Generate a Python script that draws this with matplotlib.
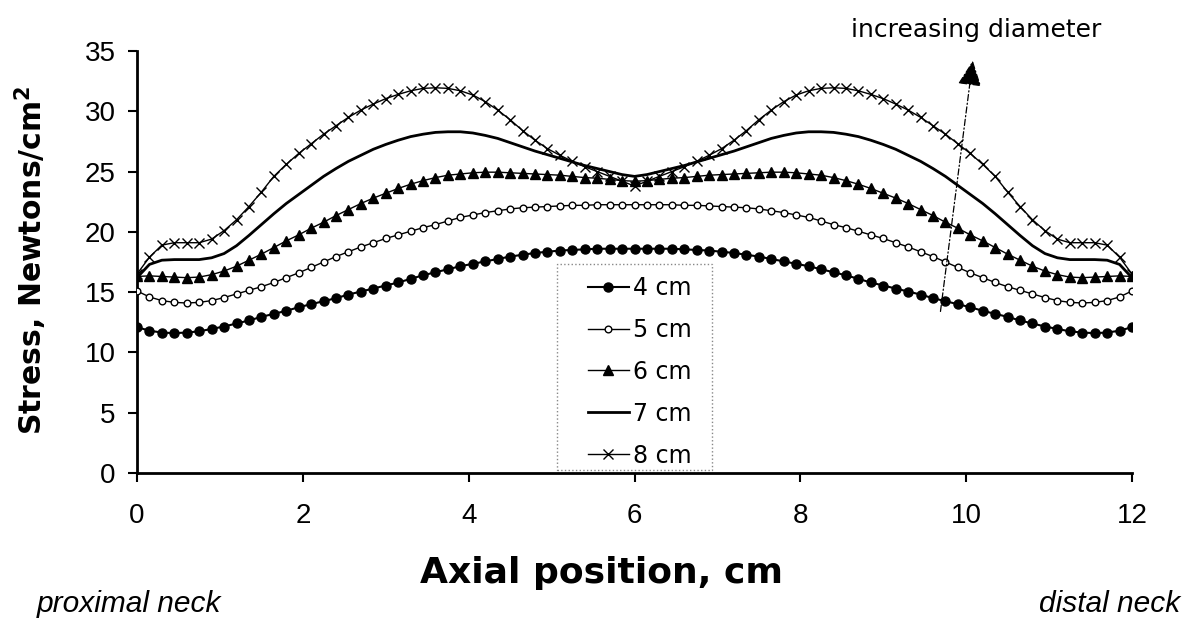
import numpy as np
import matplotlib
matplotlib.use("Agg")
import matplotlib.pyplot as plt
from matplotlib.patches import Rectangle

# Axial positions (cm), 81 stations from 0 to 12
axial_cm = np.linspace(0, 12, 81)

stress_4cm = [12.1, 11.8, 11.65, 11.6, 11.65, 11.75, 11.95, 12.15, 12.4, 12.65,
              12.95, 13.2, 13.45, 13.75, 14.0, 14.25, 14.5, 14.8, 15.05, 15.3,
              15.55, 15.8, 16.1, 16.4, 16.65, 16.9, 17.15, 17.35, 17.55, 17.75,
              17.95, 18.1, 18.25, 18.35, 18.45, 18.5, 18.55, 18.6, 18.6, 18.6,
              18.6,
              18.6, 18.6, 18.6, 18.55, 18.5, 18.45, 18.35, 18.25, 18.1, 17.95,
              17.75, 17.55, 17.35, 17.15, 16.9, 16.65, 16.4, 16.1, 15.8, 15.55,
              15.3, 15.05, 14.8, 14.5, 14.25, 14.0, 13.75, 13.45, 13.2, 12.95,
              12.65, 12.4, 12.15, 11.95, 11.75, 11.65, 11.6, 11.65, 11.8, 12.1]

stress_5cm = [15.1, 14.6, 14.3, 14.15, 14.1, 14.15, 14.3, 14.55, 14.85, 15.15,
              15.45, 15.8, 16.2, 16.6, 17.05, 17.5, 17.95, 18.35, 18.75, 19.1,
              19.45, 19.75, 20.05, 20.35, 20.6, 20.9, 21.2, 21.4, 21.6, 21.75,
              21.9, 22.0, 22.05, 22.1, 22.15, 22.2, 22.2, 22.25, 22.25, 22.25,
              22.25,
              22.25, 22.25, 22.25, 22.2, 22.2, 22.15, 22.1, 22.05, 22.0, 21.9,
              21.75, 21.6, 21.4, 21.2, 20.9, 20.6, 20.35, 20.05, 19.75, 19.45,
              19.1, 18.75, 18.35, 17.95, 17.5, 17.05, 16.6, 16.2, 15.8, 15.45,
              15.15, 14.85, 14.55, 14.3, 14.15, 14.1, 14.15, 14.3, 14.6, 15.1]

stress_6cm = [16.3, 16.35, 16.3, 16.25, 16.2, 16.25, 16.45, 16.75, 17.15, 17.65,
              18.15, 18.7, 19.25, 19.75, 20.3, 20.8, 21.35, 21.85, 22.35, 22.8,
              23.2, 23.6, 23.95, 24.25, 24.5, 24.7, 24.8, 24.9, 24.95, 24.95,
              24.9, 24.85, 24.8, 24.75, 24.7, 24.6, 24.5, 24.45, 24.35, 24.25,
              24.2,
              24.25, 24.35, 24.45, 24.5, 24.6, 24.7, 24.75, 24.8, 24.85, 24.9,
              24.95, 24.95, 24.9, 24.8, 24.7, 24.5, 24.25, 23.95, 23.6, 23.2,
              22.8, 22.35, 21.85, 21.35, 20.8, 20.3, 19.75, 19.25, 18.7, 18.15,
              17.65, 17.15, 16.75, 16.45, 16.25, 16.2, 16.25, 16.3, 16.35, 16.3]

stress_7cm = [16.2, 17.3, 17.65, 17.7, 17.7, 17.7, 17.85, 18.2, 18.85, 19.7,
              20.6, 21.5, 22.35, 23.1, 23.85, 24.6, 25.25, 25.85, 26.35, 26.85,
              27.25, 27.6, 27.9, 28.1, 28.25, 28.3, 28.3, 28.2, 28.0, 27.75,
              27.4, 27.05, 26.7, 26.4, 26.1, 25.8, 25.5, 25.25, 25.0, 24.75,
              24.6,
              24.75, 25.0, 25.25, 25.5, 25.8, 26.1, 26.4, 26.7, 27.05, 27.4,
              27.75, 28.0, 28.2, 28.3, 28.3, 28.25, 28.1, 27.9, 27.6, 27.25,
              26.85, 26.35, 25.85, 25.25, 24.6, 23.85, 23.1, 22.35, 21.5, 20.6,
              19.7, 18.85, 18.2, 17.85, 17.7, 17.7, 17.7, 17.65, 17.3, 16.2]

stress_8cm = [16.5, 17.9, 18.9, 19.1, 19.1, 19.1, 19.4, 20.1, 21.0, 22.1,
              23.3, 24.6, 25.6, 26.5, 27.3, 28.1, 28.8, 29.5, 30.1, 30.6,
              31.05, 31.4, 31.7, 31.9, 31.95, 31.9, 31.7, 31.35, 30.8, 30.1,
              29.3, 28.4, 27.6, 26.9, 26.35, 25.85, 25.4, 25.0, 24.6, 24.2,
              23.8,
              24.2, 24.6, 25.0, 25.4, 25.85, 26.35, 26.9, 27.6, 28.4, 29.3,
              30.1, 30.8, 31.35, 31.7, 31.9, 31.95, 31.9, 31.7, 31.4, 31.05,
              30.6, 30.1, 29.5, 28.8, 28.1, 27.3, 26.5, 25.6, 24.6, 23.3,
              22.1, 21.0, 20.1, 19.4, 19.1, 19.1, 19.1, 18.9, 17.9, 16.5]

series_labels = ["4 cm", "5 cm", "6 cm", "7 cm", "8 cm"]
x_ticks = [0, 2, 4, 6, 8, 10, 12]
y_ticks = [0, 5, 10, 15, 20, 25, 30, 35]

fig = plt.figure(figsize=(11.9, 6.18), dpi=100)
ax = fig.add_axes([137/1190, 1 - 473/618, 995/1190, 422/618])

ax.plot(axial_cm, stress_4cm, color="black", lw=1.5, marker="o", ms=6.5,
        mfc="black", mec="black", label=series_labels[0], zorder=3)
ax.plot(axial_cm, stress_5cm, color="black", lw=1.0, marker="o", ms=4.8,
        mfc="white", mec="black", mew=1.0, label=series_labels[1], zorder=3)
ax.plot(axial_cm, stress_6cm, color="black", lw=1.0, marker="^", ms=7,
        mfc="black", mec="black", label=series_labels[2], zorder=3)
ax.plot(axial_cm, stress_7cm, color="black", lw=2.0, label=series_labels[3],
        zorder=3)
ax.plot(axial_cm, stress_8cm, color="black", lw=1.0, marker="x", ms=7,
        mew=1.0, label=series_labels[4], zorder=3)

ax.set_xlim(0, 12)
ax.set_ylim(0, 35)
ax.set_xticks(x_ticks)
ax.set_yticks(y_ticks)
ax.spines["top"].set_visible(False)
ax.spines["right"].set_visible(False)
for s in ("left", "bottom"):
    ax.spines[s].set_linewidth(2.0)
ax.spines["left"].set_bounds(0, 35)
ax.tick_params(axis="both", direction="out", length=6.5, width=1.5,
               labelsize=20, colors="black")
ax.tick_params(axis="x", pad=15)
ax.tick_params(axis="y", pad=9)
for lab in ax.get_xticklabels() + ax.get_yticklabels():
    lab.set_fontfamily("Liberation Sans")

ax.set_ylabel("Stress, Newtons/cm$^\\mathbf{2}$", fontsize=21.5,
              fontweight="bold", family="DejaVu Sans")
ax.yaxis.set_label_coords(-0.088, 0.505)

fig.text(602/1190, 1 - 583/618, "Axial position, cm", ha="center",
         va="baseline", fontsize=26, fontweight="bold", family="DejaVu Sans")
fig.text(37/1190, 1 - 612/618, "proximal neck", ha="left", va="baseline",
         fontsize=21.5, style="italic", family="Liberation Sans")
fig.text(1180/1190, 1 - 612/618, "distal neck", ha="right", va="baseline",
         fontsize=21.5, style="italic", family="Liberation Sans")

leg = ax.legend(loc="center", bbox_to_anchor=(0.505, 0.24), frameon=False,
                numpoints=1, handlelength=1.75, handletextpad=0.15,
                labelspacing=0.76,
                prop={"family": "DejaVu Sans", "size": 17})
ax.add_patch(Rectangle((0.422, 0.007), 0.156, 0.488, transform=ax.transAxes,
                       fill=False, ls=":", lw=1.0, ec="#888888", zorder=1))

ax.annotate("", xy=(10.08, 34.2), xytext=(9.69, 13.4),
            arrowprops=dict(arrowstyle="-|>,head_length=1.6,head_width=0.75",
                            color="black", lw=0.9, ls=(0, (5, 2, 1, 2)),
                            shrinkA=0, shrinkB=0),
            annotation_clip=False)
fig.text(976/1190, 1 - 30/618, "increasing diameter", ha="center",
         va="center", fontsize=18, family="DejaVu Sans")

fig.savefig("out.png", dpi=100)
